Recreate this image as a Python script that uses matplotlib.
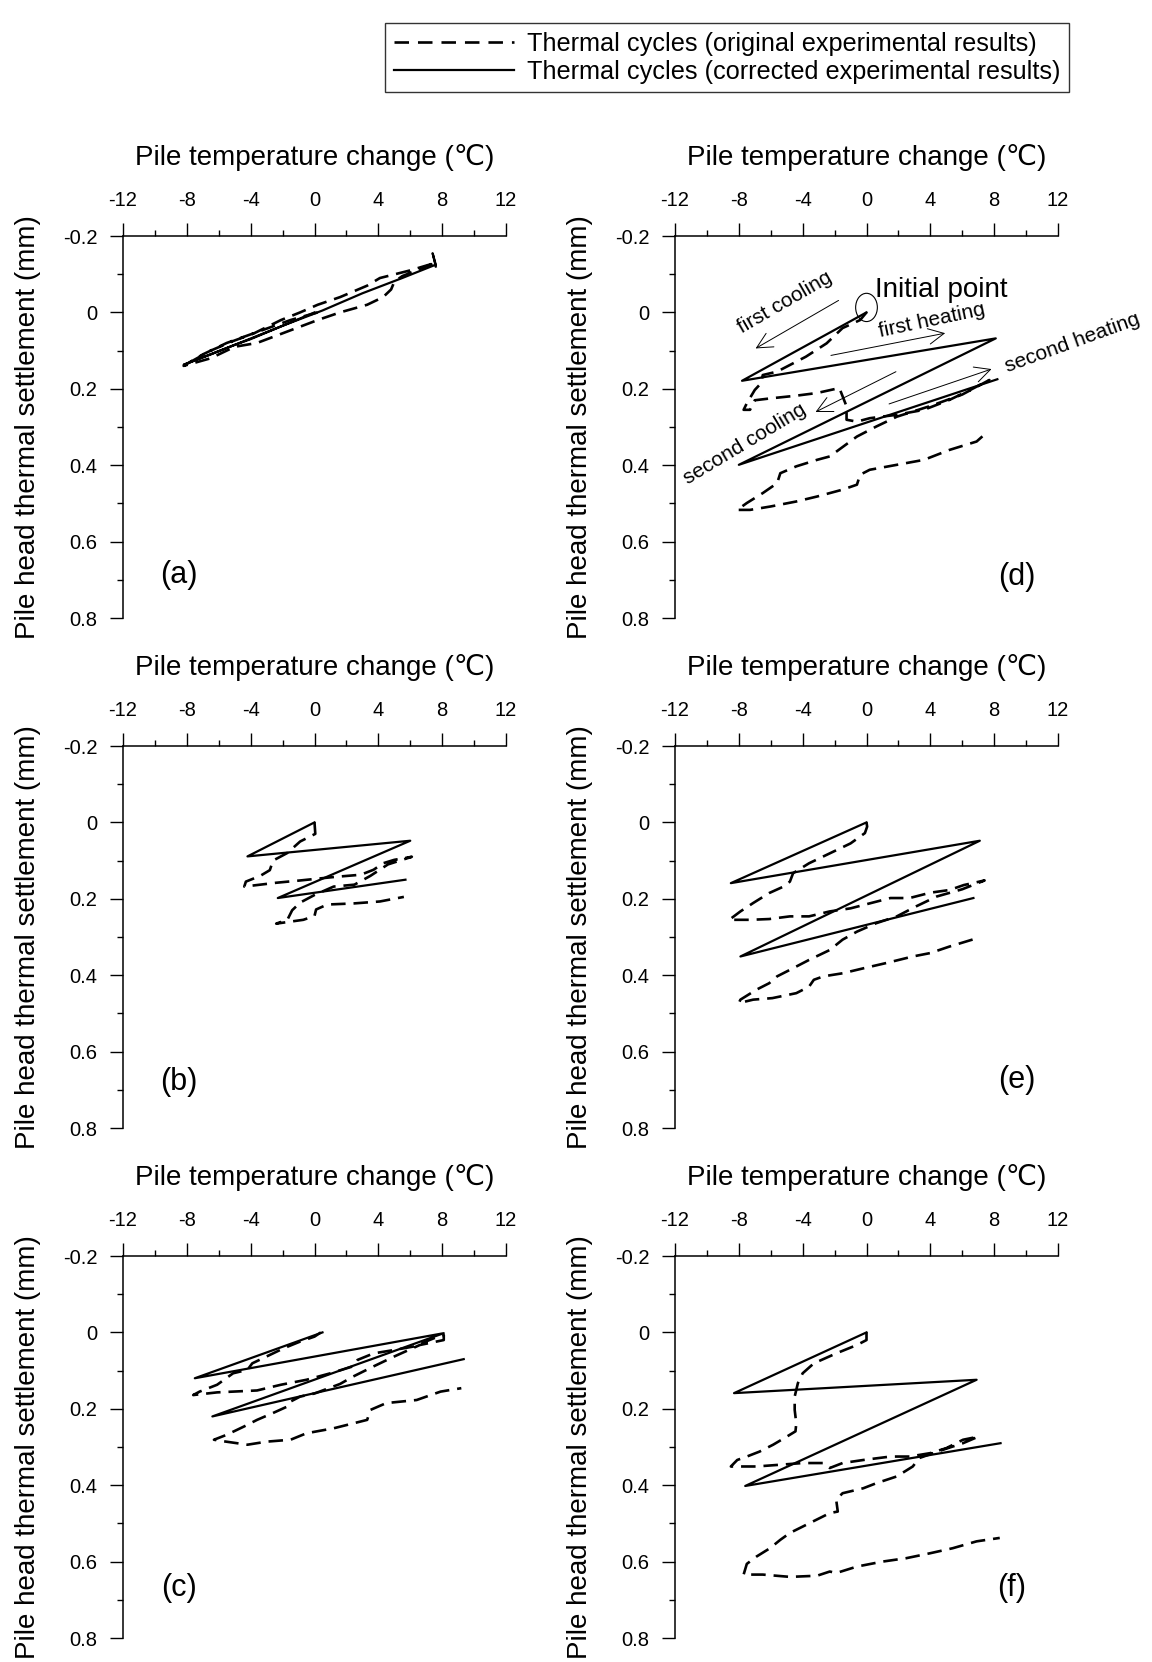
"""Thermal cycles: pile head thermal settlement vs pile temperature change, panels (a)-(f)."""
import numpy as np
import matplotlib.pyplot as plt
from matplotlib.patches import Ellipse
from matplotlib.lines import Line2D

plt.rcParams.update({
    'font.family': ['Liberation Sans', 'DejaVu Sans'],
    'font.size': 14,
    'axes.linewidth': 1.1,
    'axes.unicode_minus': False,
})

# ---- data (temperature change in C, settlement in mm) ----
# (a)
a_corr_t = [0.0, -2.0, -4.0, -5.0, -6.5, -8.2, -5.0, -2.0, 0.5, 3.0, 5.5, 7.6, 7.4, 7.6]
a_corr_s = [0.0, 0.035, 0.07, 0.085, 0.11, 0.137, 0.085, 0.035, -0.005, -0.05, -0.09, -0.125, -0.155, -0.12]
a_orig_t = [0.2, -1.5, -3.5, -5.5, -7.0, -8.2, -6.5, -5.0, -3.6, -1.7, 0.2, 1.6, 3.3, 4.3, 4.8,
            5.0, 5.5, 7.0, 7.6, 6.0, 4.1, 3.3, 1.6, 0.2, -0.9, -2.1, -3.8, -5.1, -6.5, -8.0]
a_orig_s = [0.0, 0.02, 0.05, 0.08, 0.11, 0.14, 0.12, 0.09, 0.08, 0.05, 0.02, 0.0, -0.02, -0.04, -0.06,
            -0.08, -0.095, -0.12, -0.13, -0.11, -0.09, -0.07, -0.04, -0.02, 0.0, 0.02, 0.055, 0.075, 0.1, 0.135]

# (b)
b_corr_t = [0.0, -4.2, 6.0, -2.3, 5.7]
b_corr_s = [0.0, 0.089, 0.048, 0.198, 0.150]
b_orig_t = [0.0, 0.05, -0.9, -1.7, -2.6, -2.8, -3.4, -4.3, -4.4, -2.4, -0.9, 1.2, 2.9, 3.7, 4.3, 5.0, 6.1,
            4.6, 3.5, 2.5, 1.2, 0.0, -0.9, -1.4, -1.7, -2.4, -0.7, 0.0, 0.1, 0.8, 2.5, 4.1, 5.6]
b_orig_s = [0.0, 0.03, 0.05, 0.08, 0.10, 0.125, 0.14, 0.155, 0.168, 0.158, 0.152, 0.143, 0.137, 0.124, 0.107,
            0.098, 0.09, 0.11, 0.14, 0.163, 0.168, 0.19, 0.21, 0.23, 0.255, 0.265, 0.255, 0.245, 0.228,
            0.215, 0.212, 0.207, 0.195]

# (c)
c_corr_t = [0.5, -7.5, 8.1, -6.4, 9.35]
c_corr_s = [0.0, 0.12, 0.002, 0.22, 0.07]
c_orig_t = [0.4, 0.0, -0.9, -1.9, -3.0, -3.9, -4.2, -5.1, -6.1, -7.2, -7.6, -6.1, -3.6, -2.1, -0.5, 1.0,
            2.4, 2.7, 3.7, 5.0, 6.2, 7.5, 8.1, 8.1, 6.6, 5.0, 3.7, 2.4, 1.6, 0.0, -0.9, -1.5, -1.7, -2.6,
            -3.6, -4.4, -5.5, -6.3, -5.7, -4.2, -3.0, -1.5, -0.5, 1.2, 3.3, 3.5, 4.5, 6.4, 7.9, 9.2]
c_orig_s = [0.0, 0.011, 0.024, 0.041, 0.063, 0.081, 0.098, 0.107, 0.137, 0.155, 0.164, 0.157, 0.152, 0.137,
            0.124, 0.107, 0.089, 0.072, 0.055, 0.046, 0.037, 0.015, 0.007, 0.02, 0.033, 0.063, 0.089, 0.116,
            0.135, 0.16, 0.168, 0.181, 0.194, 0.211, 0.229, 0.246, 0.268, 0.281, 0.285, 0.294, 0.286, 0.281,
            0.264, 0.251, 0.229, 0.203, 0.185, 0.177, 0.155, 0.146]

# (d)
d_corr_t = [0.0, -7.8, 8.1, -8.0, 8.2]
d_corr_s = [0.0, 0.179, 0.068, 0.399, 0.175]
d_orig_t = [0.0, -0.4, -1.5, -2.5, -3.8, -5.0, -5.6, -6.5, -6.6, -7.0, -7.5, -7.7, -7.3, -7.0, -6.0, -4.4,
            -3.1, -1.7, -1.25, -1.25, -0.6, 0.2, 1.9, 3.6, 5.2, 6.5, 7.7, 6.0, 4.0, 1.9, 0.6, -0.6, -2.3,
            -3.1, -4.4, -5.4, -5.6, -6.5, -7.5, -8.1, -7.3, -6.0, -4.4, -3.1, -1.5, -0.6, -0.4, 0.2, 1.9,
            3.6, 5.2, 6.9, 7.6]
d_orig_s = [0.0, 0.02, 0.041, 0.081, 0.116, 0.142, 0.155, 0.164, 0.185, 0.203, 0.238, 0.255, 0.255, 0.23,
            0.225, 0.218, 0.211, 0.198, 0.246, 0.281, 0.286, 0.277, 0.268, 0.255, 0.229, 0.203, 0.177,
            0.215, 0.245, 0.273, 0.299, 0.325, 0.377, 0.386, 0.403, 0.421, 0.447, 0.473, 0.499, 0.517,
            0.517, 0.508, 0.495, 0.482, 0.464, 0.451, 0.425, 0.412, 0.399, 0.386, 0.36, 0.338, 0.312]

# (e)
e_corr_t = [0.0, -8.5, 7.1, -7.9, 6.7]
e_corr_s = [0.0, 0.159, 0.048, 0.351, 0.198]
e_orig_t = [0.0, 0.04, -0.1, -1.0, -2.3, -3.6, -4.6, -4.8, -5.2, -6.1, -7.1, -7.9, -8.6, -7.3, -6.1, -4.8,
            -3.6, -2.3, -1.0, 0.2, 1.5, 2.7, 4.0, 5.2, 6.1, 7.4, 6.0, 4.4, 3.1, 1.9, 0.6, -0.6, -1.5, -2.3,
            -3.6, -4.8, -5.6, -6.1, -6.9, -7.9, -8.0, -7.1, -5.9, -4.4, -3.6, -3.3, -2.7, -1.5, -0.2, 1.25,
            2.9, 4.0, 5.2, 6.7]
e_orig_s = [0.0, 0.011, 0.028, 0.055, 0.081, 0.107, 0.133, 0.155, 0.168, 0.185, 0.211, 0.233, 0.255, 0.255,
            0.253, 0.246, 0.246, 0.233, 0.225, 0.212, 0.198, 0.198, 0.184, 0.177, 0.164, 0.152, 0.175, 0.194,
            0.22, 0.246, 0.264, 0.286, 0.307, 0.334, 0.36, 0.386, 0.403, 0.421, 0.438, 0.464, 0.473, 0.464,
            0.46, 0.447, 0.43, 0.412, 0.403, 0.395, 0.382, 0.368, 0.351, 0.342, 0.325, 0.306]

# (f)
f_corr_t = [0.0, -8.3, 6.9, -7.6, 8.4]
f_corr_s = [0.0, 0.159, 0.124, 0.402, 0.29]
f_orig_t = [0.0, 0.0, -0.6, -1.9, -3.3, -4.0, -4.3, -4.5, -4.5, -4.4, -4.45, -5.0, -5.85, -6.7, -7.5, -8.1,
            -8.5, -6.9, -5.6, -4.0, -2.7, -2.3, -1.5, -0.2, 1.5, 2.7, 4.0, 5.0, 6.05, 7.0, 6.05, 4.8, 3.3,
            2.9, 1.9, 0.6, -0.2, -1.5, -1.9, -1.8, -2.3, -3.55, -4.8, -5.4, -6.05, -6.9, -7.5, -7.7, -6.5,
            -4.8, -3.1, -2.3, -1.9, -0.6, 1.0, 2.5, 4.0, 5.4, 6.9, 8.35]
f_orig_s = [0.0, 0.02, 0.033, 0.055, 0.081, 0.107, 0.133, 0.168, 0.203, 0.238, 0.259, 0.273, 0.294, 0.312,
            0.325, 0.334, 0.351, 0.351, 0.347, 0.342, 0.342, 0.355, 0.342, 0.334, 0.325, 0.325, 0.316,
            0.303, 0.281, 0.273, 0.29, 0.307, 0.329, 0.351, 0.377, 0.395, 0.408, 0.421, 0.438, 0.469, 0.473,
            0.499, 0.525, 0.543, 0.565, 0.587, 0.606, 0.634, 0.634, 0.64, 0.637, 0.626, 0.63, 0.613, 0.6,
            0.591, 0.578, 0.565, 0.547, 0.538]

panels = [
    ('(a)', a_orig_t, a_orig_s, a_corr_t, a_corr_s),
    ('(b)', b_orig_t, b_orig_s, b_corr_t, b_corr_s),
    ('(c)', c_orig_t, c_orig_s, c_corr_t, c_corr_s),
    ('(d)', d_orig_t, d_orig_s, d_corr_t, d_corr_s),
    ('(e)', e_orig_t, e_orig_s, e_corr_t, e_corr_s),
    ('(f)', f_orig_t, f_orig_s, f_corr_t, f_corr_s),
]
x_ticks = [-12, -8, -4, 0, 4, 8, 12]
y_ticks = [-0.2, 0, 0.2, 0.4, 0.6, 0.8]
y_ticklabels = ['-0.2', '0', '0.2', '0.4', '0.6', '0.8']

DASH = (0, (5.5, 3.0))

fig = plt.figure(figsize=(11.52, 16.62), dpi=100)

W, H = 1152, 1662
ax_w, ax_h = 383, 382
lefts = [123, 675]
tops = [236, 746, 1256]
label_pos = {'(a)': (0.146, 0.113), '(b)': (0.146, 0.12), '(c)': (0.146, 0.131),
             '(d)': (0.893, 0.107), '(e)': (0.893, 0.126), '(f)': (0.88, 0.131)}

axes = {}
for i, (name, ot, os_, ct, cs) in enumerate(panels):
    col, row = divmod(i, 3)
    rect = [lefts[col] / W, 1 - (tops[row] + ax_h) / H, ax_w / W, ax_h / H]
    ax = fig.add_axes(rect)
    axes[name] = ax
    ax.plot(ot, os_, color='black', lw=1.9, linestyle=DASH)
    ax.plot(ct, cs, color='black', lw=1.6)

    ax.set_xlim(-12, 12)
    ax.set_ylim(0.8, -0.2)
    ax.xaxis.tick_top()
    ax.xaxis.set_label_position('top')
    ax.spines['right'].set_visible(False)
    ax.spines['bottom'].set_visible(False)
    ax.set_xticks(x_ticks)
    ax.set_xticklabels([str(t) for t in x_ticks])
    ax.set_xticks(np.arange(-12, 13, 2), minor=True)
    ax.set_yticks(y_ticks)
    ax.set_yticklabels(y_ticklabels)
    ax.set_yticks(np.arange(-0.2, 0.81, 0.1), minor=True)
    ax.tick_params(which='major', length=9.5, width=1.0, direction='out', labelsize=14.5, pad=9)
    ax.tick_params(which='minor', length=4.5, width=1.0, direction='out')
    ax.tick_params(axis='x', which='both', bottom=False, top=True)
    ax.set_xlabel('Pile temperature change (℃)', fontsize=20, labelpad=19)
    ax.set_ylabel('Pile head thermal settlement (mm)', fontsize=20, labelpad=16)
    lx, ly = label_pos[name]
    ax.text(lx, ly, name, transform=ax.transAxes, fontsize=22, ha='center', va='center')

# annotations in (d)
ax = axes['(d)']
ax.add_patch(Ellipse((0.0, -0.013), 1.36, 0.074, fill=False, lw=0.8, color='black'))
ax.text(0.55, -0.04, 'Initial point', fontsize=20, ha='left', va='baseline')
arrow = dict(arrowstyle='->', lw=0.7, color='black', mutation_scale=28)
ax.annotate('', xy=(-7.1, 0.098), xytext=(-1.6, -0.035), arrowprops=arrow)
ax.annotate('', xy=(5.1, 0.053), xytext=(-2.4, 0.114), arrowprops=arrow)
ax.annotate('', xy=(8.0, 0.146), xytext=(1.25, 0.242), arrowprops=arrow)
ax.annotate('', xy=(-3.35, 0.264), xytext=(2.0, 0.152), arrowprops=arrow)
ax.text(-5.1, -0.025, 'first cooling', fontsize=15, rotation=30, ha='center', va='center')
ax.text(4.1, 0.02, 'first heating', fontsize=15, rotation=12, ha='center', va='center')
ax.text(12.9, 0.08, 'second heating', fontsize=15, rotation=20, ha='center', va='center', clip_on=False)
ax.text(-7.6, 0.345, 'second cooling', fontsize=15, rotation=31, ha='center', va='center')

handles = [Line2D([], [], color='black', lw=1.9, linestyle=(0, (5.5, 3.4))),
           Line2D([], [], color='black', lw=1.6)]
fig.legend(handles, ['Thermal cycles (original experimental results)',
                     'Thermal cycles (corrected experimental results)'],
           loc='upper left', bbox_to_anchor=(385 / W, 1 - 23 / H), fontsize=18.2,
           frameon=True, fancybox=False, edgecolor='black', handlelength=4.75,
           borderpad=0.35, labelspacing=0.15, handletextpad=0.5, borderaxespad=0)

fig.savefig('out.png', dpi=100)
